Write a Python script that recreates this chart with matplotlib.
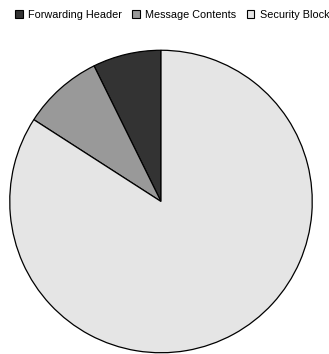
import matplotlib
matplotlib.use("Agg")
import matplotlib.pyplot as plt
from matplotlib.patches import Patch

labels = ["Forwarding Header", "Message Contents", "Security Block"]
values = [7.3, 8.6, 84.1]
colors = ["#333333", "#999999", "#e5e5e5"]

plt.rcParams["font.family"] = ["Liberation Sans", "DejaVu Sans"]

W, H = 329, 354
fig = plt.figure(figsize=(W / 100, H / 100), dpi=100)
cx, cy, r = 161, 201.5, 152
ax = fig.add_axes([(cx - r) / W, (H - cy - r) / H, 2 * r / W, 2 * r / H])
ax.pie(values, colors=colors, startangle=90, counterclock=True, radius=1,
       wedgeprops=dict(edgecolor="black", linewidth=0.9))
ax.set_xlim(-1.005, 1.005)
ax.set_ylim(-1.005, 1.005)
ax.set_aspect("equal")
ax.axis("off")

handles = [Patch(facecolor=c, edgecolor="black", linewidth=0.8) for c in colors]
fig.legend(handles, labels, loc="upper left", bbox_to_anchor=(15 / W, 1 - 9.5 / H),
           ncol=3, frameon=False, fontsize=7.8, handlelength=0.7, handleheight=0.7,
           handletextpad=0.5, columnspacing=0.95, borderaxespad=0, borderpad=0)

fig.savefig("out.png", dpi=100)
